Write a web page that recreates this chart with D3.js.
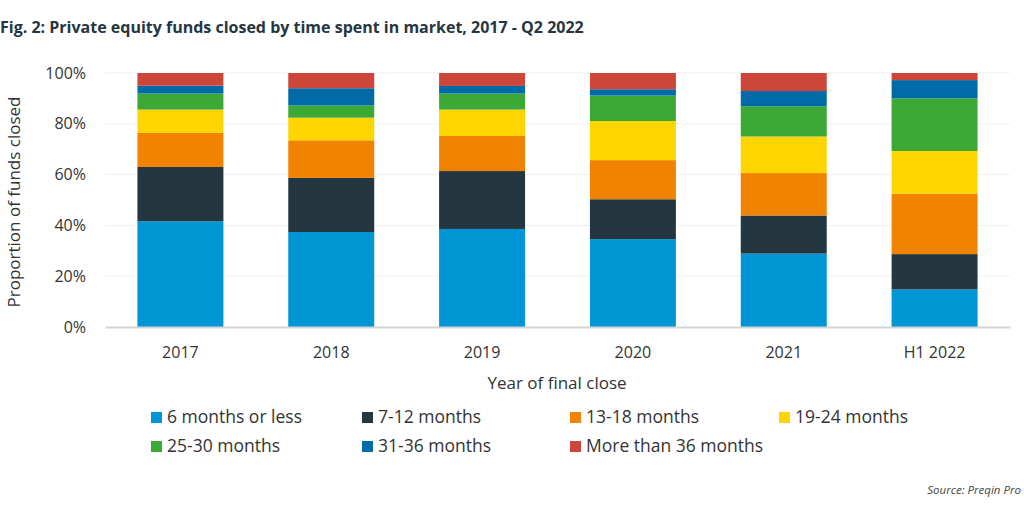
<!DOCTYPE html>
<html><head><meta charset="utf-8">
<script src="https://cdn.jsdelivr.net/npm/d3@7/dist/d3.min.js"></script>
<style>body{margin:0;background:#fff;}svg{display:block;font-family:"Open Sans",sans-serif;}</style>
</head><body>
<svg id="c" width="1024" height="512"></svg>
<script>
const categories = ["2017","2018","2019","2020","2021","H1 2022"];
const seriesNames = ["6 months or less","7-12 months","13-18 months","19-24 months","25-30 months","31-36 months","More than 36 months"];
const s6 =   [41.6, 37.4, 38.6, 34.6, 28.9, 14.8];
const s12 =  [21.4, 21.3, 22.8, 15.7, 15.0, 13.9];
const s18 =  [13.4, 14.8, 13.8, 15.4, 16.7, 23.8];
const s24 =  [9.2, 8.9, 10.4, 15.4, 14.4, 16.8];
const s30 =  [6.3, 4.8, 6.3, 10.0, 11.9, 20.7];
const s36 =  [3.1, 6.8, 3.0, 2.5, 6.0, 7.2];
const s36p = [5.0, 6.0, 5.1, 6.4, 7.1, 2.8];
const yTicks = [0,20,40,60,80,100];
const colors = ["#0096d6","#243740","#f08300","#ffd500","#3da935","#006ba6","#cc4739"];

const seriesVals = [s6,s12,s18,s24,s30,s36,s36p];
const table = categories.map((c,i)=>{const o={cat:c}; seriesNames.forEach((n,j)=>o[n]=seriesVals[j][i]); return o;});
const stack = d3.stack().keys(seriesNames)(table);

const svg = d3.select("#c");
const x = d3.scaleBand().domain(categories).range([105,1010]).paddingInner(0.43).paddingOuter(0.215);
const y = d3.scaleLinear().domain([0,100]).range([327,73]);

svg.append("text").attr("x",0).attr("y",33).attr("font-weight","bold").attr("font-size",16).attr("fill","#263640").text("Fig. 2: Private equity funds closed by time spent in market, 2017 - Q2 2022");

// grid
svg.append("g").selectAll("line").data(yTicks.filter(t=>t>0)).join("line")
  .attr("x1",105).attr("x2",1010).attr("y1",d=>y(d)).attr("y2",d=>y(d)).attr("stroke","#f0f0f0").attr("stroke-width",1);

const yAxis = svg.append("g").attr("transform","translate(105,0)").call(d3.axisLeft(y).tickValues(yTicks).tickFormat(d=>d+"%").tickSize(0).tickPadding(19));
yAxis.select(".domain").remove();
yAxis.selectAll("text").attr("font-size",16).attr("fill","#333").attr("font-family","Open Sans");

svg.append("g").selectAll("g").data(stack).join("g").attr("fill",(d,i)=>colors[i])
  .selectAll("rect").data(d=>d).join("rect")
  .attr("x",d=>x(d.data.cat)).attr("width",x.bandwidth())
  .attr("y",d=>y(d[1])).attr("height",d=>y(d[0])-y(d[1]));

const xAxis = svg.append("g").attr("transform","translate(0,327)").call(d3.axisBottom(x).tickSize(0).tickPadding(20));
xAxis.select(".domain").attr("stroke","#d4d4d4").attr("stroke-width",2);
xAxis.selectAll("text").attr("font-size",16).attr("fill","#333").attr("font-family","Open Sans");

svg.append("text").attr("x",557).attr("y",389).attr("text-anchor","middle").attr("font-size",17).attr("fill","#333").text("Year of final close");
svg.append("text").attr("transform","translate(20,202) rotate(-90)").attr("text-anchor","middle").attr("font-size",17).attr("fill","#333").text("Proportion of funds closed");

// legend
const legX = [151,362,570,779];
const leg = svg.append("g").selectAll("g").data(seriesNames).join("g")
  .attr("transform",(d,i)=>`translate(${legX[i%4]},${i<4?423:452})`);
leg.append("rect").attr("x",0).attr("y",-11).attr("width",11).attr("height",11).attr("fill",(d,i)=>colors[i]);
leg.append("text").attr("x",16).attr("y",0).attr("font-size",17.5).attr("fill","#333").text(d=>d);

svg.append("text").attr("x",1021).attr("y",494).attr("text-anchor","end").attr("font-size",11.5).attr("font-style","italic").attr("fill","#444").text("Source: Preqin Pro");
</script>
</body></html>
